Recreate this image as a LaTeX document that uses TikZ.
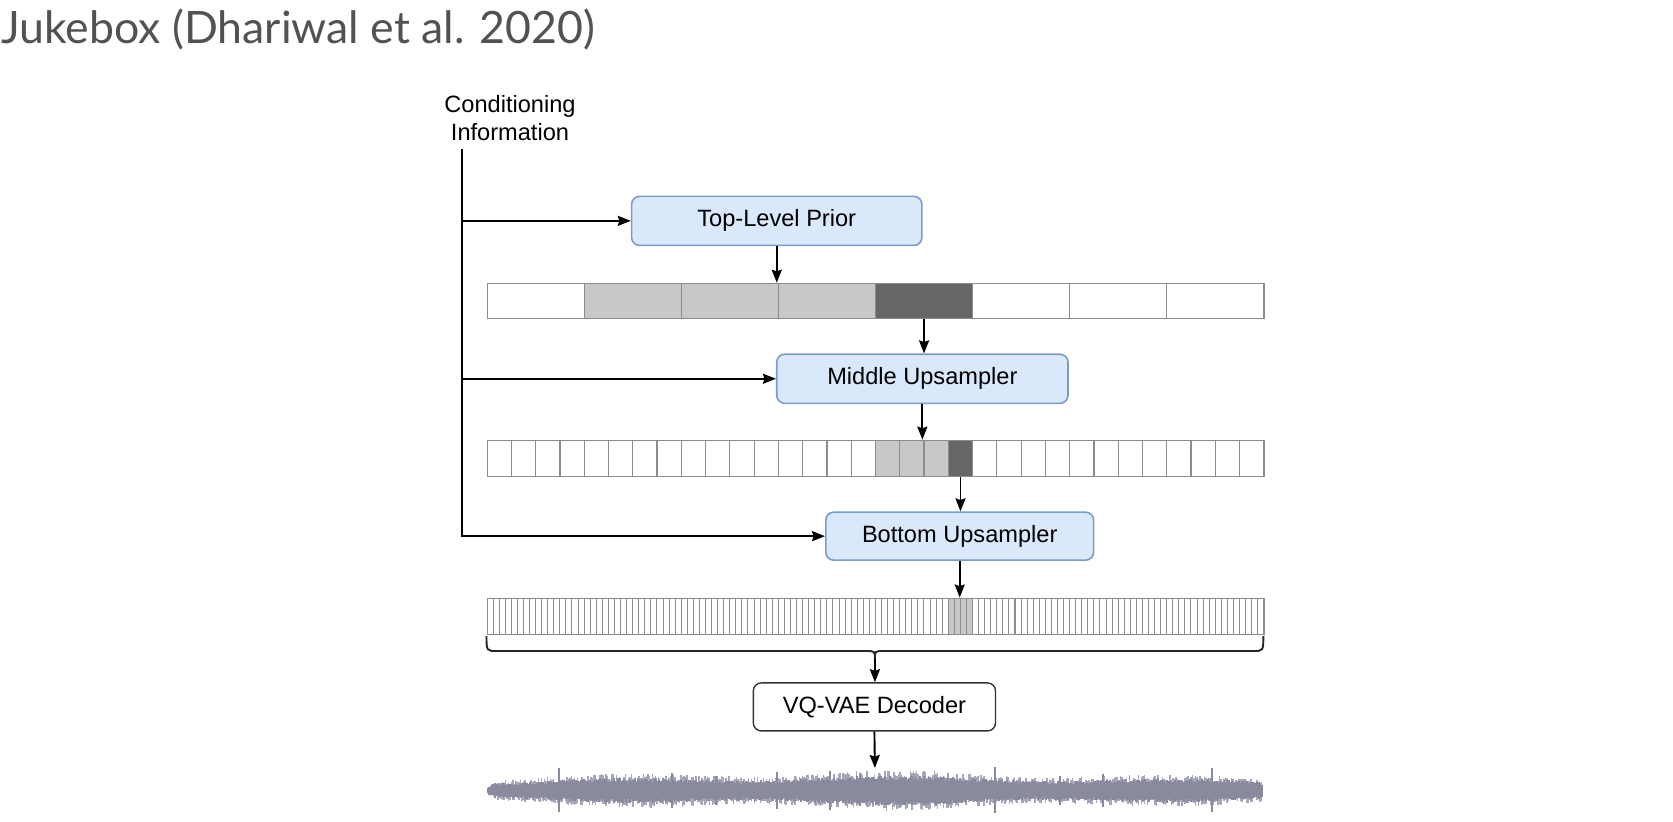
\documentclass[tikz,border=0pt]{standalone}
\usepackage{fontspec}
\setmainfont{Liberation Sans}
\newfontfamily\titlefont{Lato}
\usetikzlibrary{arrows.meta}
\definecolor{boxfill}{HTML}{DAE8FC}
\definecolor{boxline}{HTML}{7C9BCB}
\definecolor{cellline}{HTML}{8C8C8C}
\definecolor{lightcell}{HTML}{C8C8C8}
\definecolor{darkcell}{HTML}{666666}
\definecolor{wavecol}{HTML}{8A8A9E}
\definecolor{wavelight}{HTML}{A6A6B8}
\definecolor{titlecol}{HTML}{525252}
\begin{document}
\begin{tikzpicture}[x=0.5pt,y=-0.5pt,
  lbl/.style={font=\fontsize{11.8pt}{14pt}\selectfont},
  blk/.style={lbl, draw=boxline, fill=boxfill, rounded corners=4pt, line width=0.8pt, inner sep=0},
  vqbox/.style={lbl, draw=black!80, fill=white, rounded corners=4pt, line width=0.7pt, inner sep=0},
  cell/.style={draw=cellline, line width=0.6pt, inner sep=0, anchor=north west},
  arr/.style={-{Stealth[length=6.5pt,width=5pt,inset=0.8pt]}, line width=0.95pt},
  wavemain/.style={draw=wavecol, line width=1pt},
  wavelt/.style={draw=wavelight, line width=0.65pt}]
\useasboundingbox (0,0) rectangle (1673,821);

% title
\node[anchor=base west, inner sep=0, font=\titlefont\fontsize{22.3pt}{23pt}\selectfont, text=titlecol] (title) at (1,43) {Jukebox (Dhariwal et al. 2020)};

% conditioning
\node[lbl, align=center, inner sep=0, anchor=north] (cond) at (510,95) {Conditioning\\Information};

% boxes
\node[blk, minimum width=145.15pt, minimum height=24.55pt] (tlp) at (776.75,220.85) {Top-Level Prior};
\node[blk, minimum width=145.65pt, minimum height=24.55pt] (mid) at (922.35,378.75) {Middle Upsampler};
\node[blk, minimum width=133.9pt, minimum height=24pt] (bot) at (959.7,536.15) {Bottom Upsampler};
\node[vqbox, minimum width=121.1pt, minimum height=24pt] (vq) at (874.4,706.9) {VQ-VAE Decoder};

% row 1
\node[cell, minimum width=388.4pt, minimum height=17.65pt] (r1) at (486.5,282.7) {};
\foreach \k/\f in {0/white,1/lightcell,2/lightcell,3/lightcell,4/darkcell,5/white,6/white,7/white}
  \node[cell, fill=\f, minimum width=48.55pt, minimum height=17.65pt] (r1c\k) at ({486.5+97.1*\k},282.7) {};

% row 2
\node[cell, minimum width=388.4pt, minimum height=18.15pt] (r2) at (486.5,439.6) {};
\foreach \k in {0,...,31}{
  \def\f{white}
  \ifnum\k>15 \ifnum\k<19 \def\f{lightcell}\fi\fi
  \ifnum\k=19 \def\f{darkcell}\fi
  \node[cell, fill=\f, minimum width=12.1375pt, minimum height=18.15pt] (r2c\k) at ({486.5+24.275*\k},439.6) {};
}

% row 3
\node[cell, minimum width=388.4pt, minimum height=18.15pt] (r3) at (486.5,597.5) {};
\foreach \k in {0,...,127}{
  \def\f{white}
  \ifnum\k>75 \ifnum\k<80 \def\f{lightcell}\fi\fi
  \node[cell, line width=0.4pt, fill=\f, minimum width=3.034pt, minimum height=18.15pt] (r3c\k) at ({486.5+6.06875*\k},597.5) {};
}

% conditioning trunk and branches
\coordinate (ctop) at (462,149);
\draw[arr] (ctop) |- (bot.west);
\draw[arr] (ctop |- tlp.west) -- (tlp.west);
\draw[arr] (ctop |- mid.west) -- (mid.west);

% vertical flow
\draw[arr] (tlp.south) -- (tlp.south |- r1.north);
\draw[arr] (r1c4.south) -- (r1c4.south |- mid.north);
\draw[arr] (mid.south) -- (mid.south |- r2.north);
\draw[arr] (r2c19.south) -- (r2c19.south |- bot.north);
\draw[arr] (bot.south) -- (bot.south |- r3.north);

% brace
\coordinate (btip) at (874.9,659);
\draw[line width=0.95pt, black!85]
  (486.5,636) .. controls (486.5,651) .. (497,651) -- (866,651)
  .. controls (874.9,651) .. (btip)
  .. controls (874.9,651) .. (883.8,651) -- (1252.8,651)
  .. controls (1263.3,651) .. (1263.3,636);
\draw[arr] (btip) -- (btip |- vq.north);

% waveform
\coordinate (wave) at (874.9,768);
\draw[arr] (vq.south) -- (wave);
\pgfmathsetseed{4242}
\foreach \i in {0,...,516}{
  \pgfmathsetmacro\xx{487.5+1.5*\i}
  \pgfmathsetmacro\tap{min(1,sqrt(max(0,(\xx-486)/12)))}
  \pgfmathsetmacro\env{\tap*(14+2.5*sin(\xx*1.3)+2*sin(\xx*0.47+40))}
  \pgfmathsetmacro\au{\env*(0.6+0.5*rnd)}
  \pgfmathsetmacro\ad{\env*(0.6+0.5*rnd)}
  \draw[wavelt] (\xx,{790.5-\au}) -- (\xx,{790.5+\ad});
}
\foreach \i in {0,...,516}{
  \pgfmathsetmacro\xx{487.5+1.5*\i}
  \pgfmathsetmacro\tap{min(1,sqrt(max(0,(\xx-486)/9)))}
  \pgfmathsetmacro\env{\tap*(9.5+1.8*sin(\xx*1.3)+1.5*sin(\xx*0.47+40))}
  \pgfmathsetmacro\au{\env*(0.8+0.4*rnd)}
  \pgfmathsetmacro\ad{\env*(0.8+0.4*rnd)}
  \draw[wavemain] (\xx,{790.5-\au}) -- (\xx,{790.5+\ad});
}
\foreach \s/\h in {559/23,672/18,716/15,777/19,830/20,860/16,995/24,1060/15,1103/17,1212/23}
  \draw[wavemain, line width=0.75pt] (\s,{790.5-\h}) -- (\s,{790.5+0.95*\h});
\end{tikzpicture}
\end{document}
